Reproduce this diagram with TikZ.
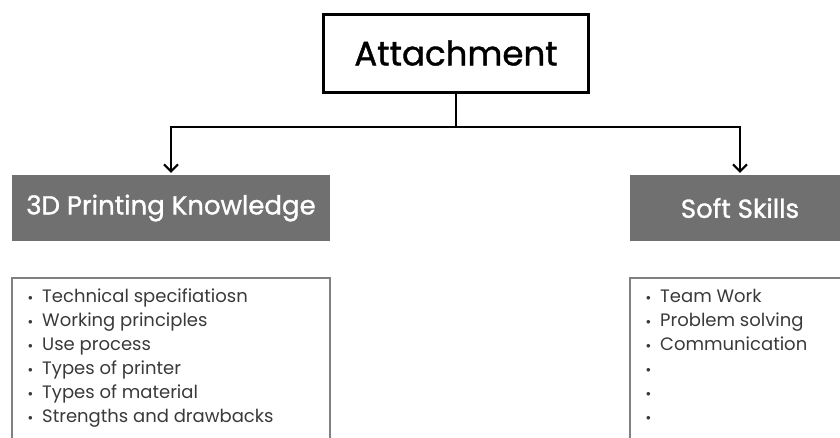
\documentclass[tikz,border=0pt]{standalone}
\usepackage{fontspec}
\setmainfont{Poppins}
\newfontfamily\headfont{Poppins}[FakeBold=1.2]
\usetikzlibrary{arrows.meta,positioning}
\definecolor{headgrey}{HTML}{707070}
\definecolor{listgrey}{HTML}{3A3A3A}
\definecolor{framegrey}{HTML}{808080}
\newcommand{\itm}[1]{\makebox[14pt][l]{\raisebox{2.5pt}{\small$\bullet$}}#1\\}
\tikzset{
  topbox/.style={draw=black, line width=3pt, fill=white, minimum width=265pt,
    minimum height=78pt, font=\headfont\fontsize{34}{38}\selectfont},
  headbox/.style={fill=headgrey, text=white, minimum height=66pt,
    font=\headfont\fontsize{26}{30}\selectfont},
  listbox/.style={draw=framegrey, line width=1.6pt, fill=white, anchor=north,
    minimum height=175pt},
  listtext/.style={anchor=north west, align=left, inner sep=0pt, text=listgrey,
    font=\fontsize{18}{24}\selectfont},
  arr/.style={draw=black, line width=2pt, -{Straight Barb[length=7pt,width=14pt]}}
}

\begin{document}
\begin{tikzpicture}[x=1pt,y=-1pt]
  \clip (0,0) rectangle (840,437);
  \fill[white] (0,0) rectangle (840,437);

  \node[topbox] (att) at (456,53) {Attachment};

  \node[headbox, minimum width=318pt] (know) at (171,208) {3D Printing Knowledge};
  \node[headbox, minimum width=220pt] (soft) at (740,208) {Soft Skills};

  \node[listbox, minimum width=318pt] (knowlist) at (171,277) {};
  \node[listbox, minimum width=220pt] (softlist) at (740,277) {};

  \node[listtext] (knowitems) at (28,289) {%
    \itm{Technical specifiatiosn}
    \itm{Working principles}
    \itm{Use process}
    \itm{Types of printer}
    \itm{Types of material}
    \itm{Strengths and drawbacks}};
  \node[listtext] (softitems) at (646,289) {%
    \itm{Team Work}
    \itm{Problem solving}
    \itm{Communication}
    \itm{}
    \itm{}
    \itm{}};

  \coordinate (split) at (456,127);
  \draw[line width=2pt] (att.south) -- (split);
  \draw[arr] (split) -| ([yshift=2pt]know.north);
  \draw[arr] (split) -| ([yshift=2pt]soft.north);
\end{tikzpicture}
\end{document}
